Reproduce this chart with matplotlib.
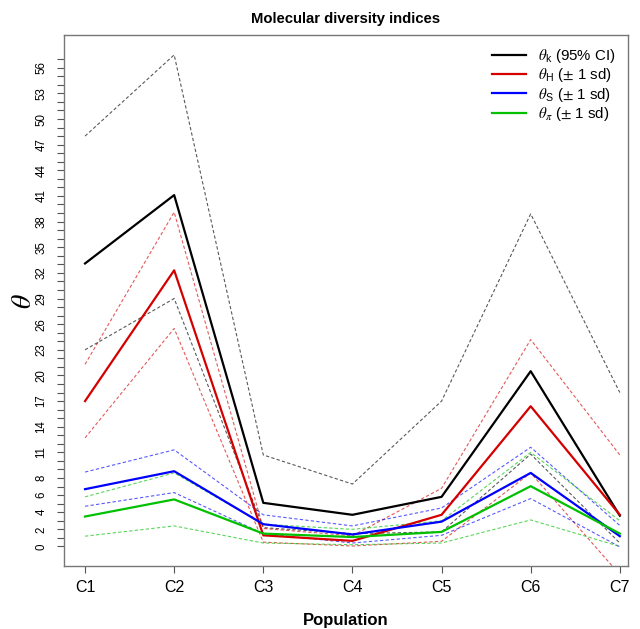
import matplotlib
matplotlib.use("Agg")
import matplotlib.pyplot as plt

plt.rcParams['font.family'] = ['Liberation Sans', 'DejaVu Sans']
plt.rcParams['mathtext.fontset'] = 'stix'

# populations on the x axis
pops = ["C1", "C2", "C3", "C4", "C5", "C6", "C7"]

# theta k with 95% CI
theta_k = [33.1, 41.1, 5.1, 3.7, 5.8, 20.5, 3.6]
theta_k_lo = [23.0, 29.0, 2.2, 1.5, 1.7, 10.8, 0.4]
theta_k_hi = [48.0, 57.5, 10.7, 7.3, 17.0, 38.9, 18.0]

# theta H, S, pi with +/- 1 sd
theta_h = [17.0, 32.3, 1.3, 0.65, 3.7, 16.4, 3.7]
theta_h_sd = [4.3, 6.8, 0.8, 0.6, 3.1, 7.8, 7.0]
theta_s = [6.7, 8.8, 2.6, 1.4, 2.9, 8.6, 1.2]
theta_s_sd = [2.0, 2.5, 1.1, 1.0, 1.6, 3.0, 1.25]
theta_pi = [3.5, 5.5, 1.5, 1.1, 1.7, 7.05, 1.5]
theta_pi_sd = [2.3, 3.1, 1.1, 0.9, 1.3, 3.95, 1.5]

# y axis labels R kept after dropping overlapping ones
ylab_shown = [0, 2, 4, 6, 8, 11, 14, 17, 20, 23, 26, 29, 32, 35, 38, 41, 44, 47, 50, 53, 56]

x = list(range(1, len(pops) + 1))

fig = plt.figure(figsize=(6.4, 6.29), dpi=100)
ax = fig.add_axes([0.1, 0.1, 0.881, 0.844])

dash = dict(lw=0.8, ls=(0, (3, 2)), alpha=0.65)

# confidence / sd bands as dashed lines
ax.plot(x, theta_k_lo, color='black', **dash)
ax.plot(x, theta_k_hi, color='black', **dash)
for vals, sd, col in [(theta_h, theta_h_sd, '#d40000'),
                      (theta_s, theta_s_sd, '#0000ff'),
                      (theta_pi, theta_pi_sd, '#00c000')]:
    ax.plot(x, [v + s for v, s in zip(vals, sd)], color=col, **dash)
    ax.plot(x, [v - s for v, s in zip(vals, sd)], color=col, **dash)

# main lines
ax.plot(x, theta_k, color='black', lw=1.6, label=r'$\theta_{\mathregular{k}}$ (95% CI)')
ax.plot(x, theta_h, color='#d40000', lw=1.6, label=r'$\theta_{\mathregular{H}}$ ($\pm$ 1 sd)')
ax.plot(x, theta_s, color='#0000ff', lw=1.6, label=r'$\theta_{\mathregular{S}}$ ($\pm$ 1 sd)')
ax.plot(x, theta_pi, color='#00c000', lw=1.6, label=r'$\theta_{\pi}$ ($\pm$ 1 sd)')

ax.set_xlim(0.764, 7.09)
ax.set_ylim(-2.3, 59.8)

ax.set_xticks(x)
ax.set_xticklabels(pops, fontsize=11.5)
yt = list(range(0, 58))
ax.set_yticks(yt)
ax.set_yticklabels([str(v) if v in ylab_shown else '' for v in yt], fontsize=8.3, rotation=90, va='center')
ax.tick_params(axis='both', length=5, width=0.8, color='#555555')
ax.tick_params(axis='x', pad=5)
ax.tick_params(axis='y', pad=7)
for sp in ax.spines.values():
    sp.set_color('#777777')
    sp.set_linewidth(1.0)

ax.set_title('Molecular diversity indices', fontsize=10.7, fontweight='bold', pad=9)
ax.set_xlabel('Population', fontsize=12, fontweight='bold', labelpad=13)
ax.set_ylabel(r'$\theta$', fontsize=20, labelpad=-1)

ax.legend(loc='upper right', frameon=False, fontsize=10.8, handlelength=2.3,
          handletextpad=0.8, labelspacing=0.08, borderaxespad=0.4)

plt.savefig('out.png', dpi=100)
